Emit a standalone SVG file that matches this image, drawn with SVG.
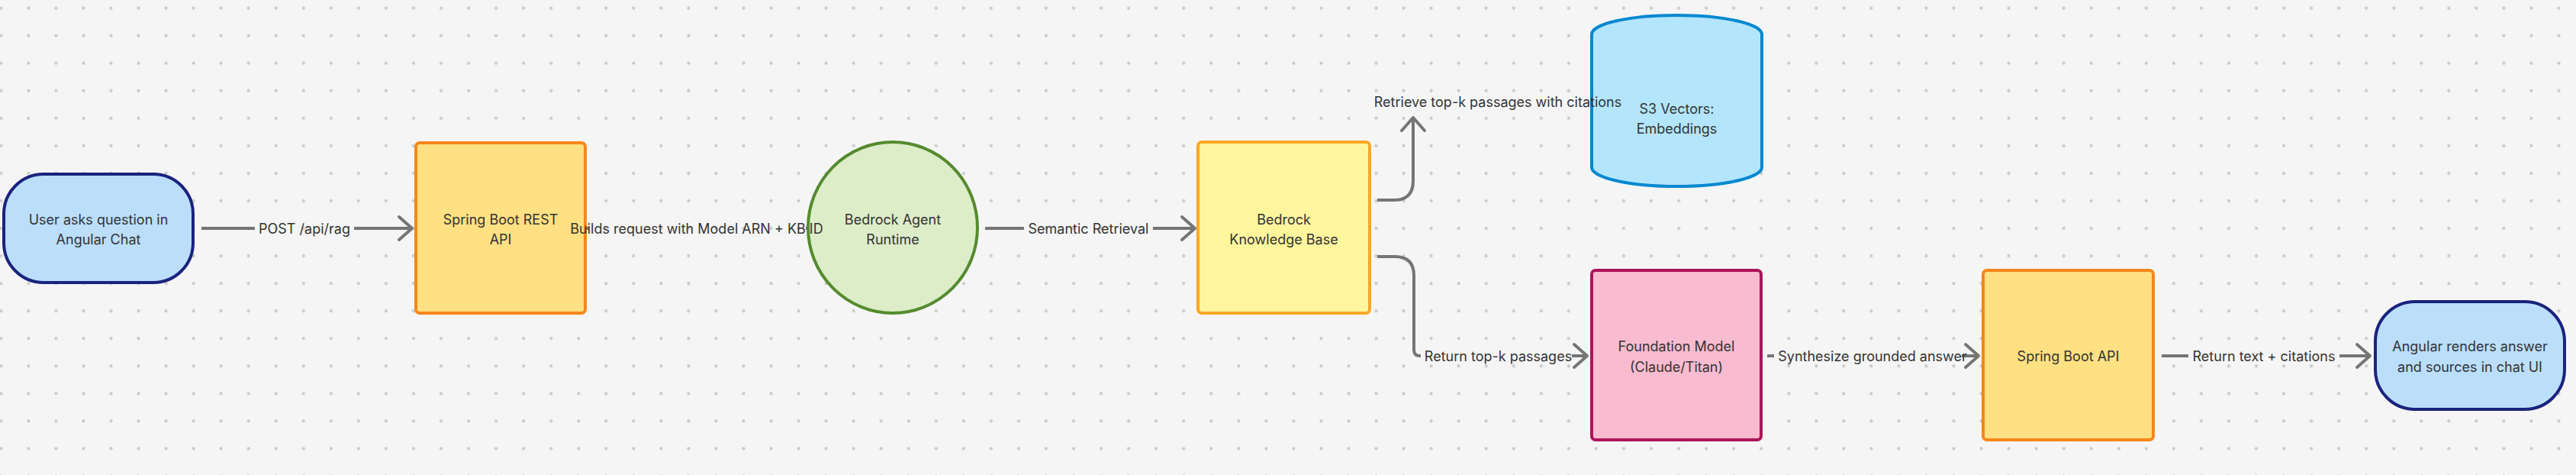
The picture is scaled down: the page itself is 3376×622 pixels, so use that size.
<svg xmlns="http://www.w3.org/2000/svg" width="3376" height="622" viewBox="0 0 3376 622">
<defs>
<pattern id="dots" patternUnits="userSpaceOnUse" x="-16.72" y="-7.32" width="36.045" height="36.045">
<circle cx="18.0225" cy="18.0225" r="2.1" fill="#c9c9c9"/>
</pattern>
<marker id="arr" viewBox="-22 -20 26 40" refX="0" refY="0" markerWidth="26" markerHeight="40" markerUnits="userSpaceOnUse" orient="auto">
<path d="M-17,-15 L0,0 L-17,15" fill="none" stroke="#757575" stroke-width="4" stroke-linecap="round" stroke-linejoin="round"/>
</marker>
<style>
.edge{fill:none;stroke:#757575;stroke-width:4;stroke-linejoin:round}
.lbg{fill:#f5f5f5}
.ldot{fill:url(#dots)}
.t{font-family:Inter,"Liberation Sans",sans-serif;font-size:18px;fill:#333333;text-anchor:middle;dominant-baseline:central}
.node{stroke-width:4}
.blue{fill:#bbdefb;stroke:#1a237e}
.spring{fill:#ffe082;stroke:#f7861c}
.green{fill:#dcedc8;stroke:#558b2f}
.kb{fill:#fff59d;stroke:#f9a825}
.s3{fill:#b3e5fc;stroke:#0288d1}
.pink{fill:#f8bbd0;stroke:#ad1457}
</style>
</defs>
<rect width="3376" height="622" fill="#f5f5f5"/>
<rect width="3376" height="622" fill="url(#dots)"/>

<g id="connectors">
<path class="edge" d="M264,299 H540" marker-end="url(#arr)"/>
<rect class="lbg" x="334" y="288" width="130" height="22"/>
<rect class="ldot" x="334" y="288" width="130" height="22"/>
<path class="edge" d="M769,299 H1056" marker-end="url(#arr)"/>
<rect class="lbg" x="771" y="280" width="285" height="38"/>
<rect class="ldot" x="771" y="280" width="285" height="38"/>
<path class="edge" d="M1291,299 H1566" marker-end="url(#arr)"/>
<rect class="lbg" x="1342" y="288" width="169" height="22"/>
<rect class="ldot" x="1342" y="288" width="169" height="22"/>
<path class="edge" d="M1805,262 H1827 Q1852,262 1852,237 V154" marker-end="url(#arr)"/>
<path class="edge" d="M1805,336 H1828 Q1853,336 1853,361 V458 Q1853,466 1861,466 H2080" marker-end="url(#arr)"/>
<rect class="lbg" x="1862" y="456" width="198" height="20"/>
<path class="edge" d="M2316,466 H2593" marker-end="url(#arr)"/>
<rect class="lbg" x="2325" y="456" width="246" height="20"/>
<path class="edge" d="M2833,466 H3106" marker-end="url(#arr)"/>
<rect class="lbg" x="2868" y="456" width="198" height="20"/>
</g>

<g id="user">
<rect class="node blue" x="5" y="228" width="248" height="142" rx="52" ry="52"/>
<text class="t" x="129" y="287">User asks question in</text>
<text class="t" x="129" y="313">Angular Chat</text>
</g>
<g id="spring-rest">
<rect class="node spring" x="545" y="187" width="222" height="223" rx="5"/>
<text class="t" x="656" y="287">Spring Boot REST</text>
<text class="t" x="656" y="313">API</text>
</g>
<g id="agent">
<ellipse class="node green" cx="1170" cy="298" rx="111" ry="112"/>
<text class="t" x="1170" y="287">Bedrock Agent</text>
<text class="t" x="1170" y="313">Runtime</text>
</g>
<g id="kb">
<rect class="node kb" x="1570" y="186" width="225" height="224" rx="5"/>
<text class="t" x="1682.5" y="287">Bedrock</text>
<text class="t" x="1682.5" y="313">Knowledge Base</text>
</g>
<g id="s3">
<path class="node s3" d="M2086,45 A111.5,25 0 0 1 2309,45 V219 A111.5,25 0 0 1 2086,219 Z"/>
<text class="t" x="2197.5" y="142">S3 Vectors:</text>
<text class="t" x="2197.5" y="168">Embeddings</text>
</g>
<g id="foundation">
<rect class="node pink" x="2086" y="354" width="222" height="222" rx="5"/>
<text class="t" x="2197" y="453">Foundation Model</text>
<text class="t" x="2197" y="480">(Claude/Titan)</text>
</g>
<g id="spring-api">
<rect class="node spring" x="2599" y="354" width="223" height="222" rx="5"/>
<text class="t" x="2710.5" y="466.5">Spring Boot API</text>
</g>
<g id="angular">
<rect class="node blue" x="3113" y="395" width="248" height="141" rx="52" ry="52"/>
<text class="t" x="3237" y="453">Angular renders answer</text>
<text class="t" x="3237" y="480">and sources in chat UI</text>
</g>

<g id="connector-labels">
<text class="t" x="399" y="299">POST /api/rag</text>
<text class="t" x="913" y="299">Builds request with Model ARN + KB ID</text>
<text class="t" x="1426.5" y="299">Semantic Retrieval</text>
<text class="t" x="1963" y="133">Retrieve top-k passages with citations</text>
<text class="t" x="1963.5" y="466">Return top-k passages</text>
<text class="t" x="2454" y="466">Synthesize grounded answer</text>
<text class="t" x="2967" y="466">Return text + citations</text>
</g>
</svg>
